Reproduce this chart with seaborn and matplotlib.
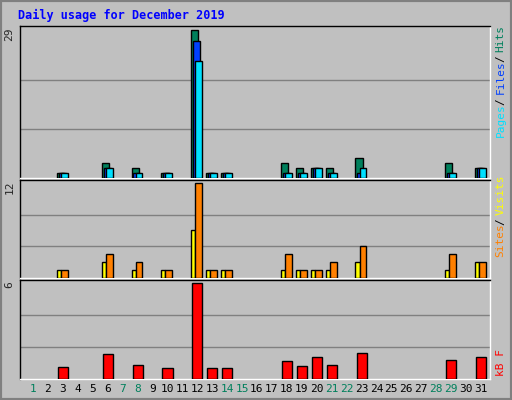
import numpy as np
import matplotlib
matplotlib.use("Agg")
import matplotlib.pyplot as plt
import seaborn as sns

days = list(range(1, 32))
hits = {3: 1, 6: 3, 8: 2, 10: 1, 12: 29, 13: 1, 14: 1, 18: 3, 19: 2, 20: 2, 21: 2, 23: 4, 29: 3, 31: 2}
files = {3: 1, 6: 2, 8: 1, 10: 1, 12: 27, 13: 1, 14: 1, 18: 1, 19: 1, 20: 2, 21: 1, 23: 1, 29: 1, 31: 2}
pages = {3: 1, 6: 2, 8: 1, 10: 1, 12: 23, 13: 1, 14: 1, 18: 1, 19: 1, 20: 2, 21: 1, 23: 2, 29: 1, 31: 2}
visits = {3: 1, 6: 2, 8: 1, 10: 1, 12: 6, 13: 1, 14: 1, 18: 1, 19: 1, 20: 1, 21: 1, 23: 2, 29: 1, 31: 2}
sites = {3: 1, 6: 3, 8: 2, 10: 1, 12: 12, 13: 1, 14: 1, 18: 3, 19: 1, 20: 1, 21: 2, 23: 4, 29: 3, 31: 2}
kbytes = {3: 0.77, 6: 1.53, 8: 0.88, 10: 0.68, 12: 6.0, 13: 0.68, 14: 0.68, 18: 1.14, 19: 0.81,
          20: 1.4, 21: 0.88, 23: 1.6, 29: 1.2, 31: 1.4}
weekend = [1, 7, 8, 14, 15, 21, 22, 28, 29]

sns.set_style("white")
plt.rcParams['font.family'] = ['DejaVu Sans Mono']

W, H = 512, 400
fig = plt.figure(figsize=(W / 100, H / 100), dpi=100, facecolor="#C0C0C0")
# outer border
fig.add_artist(plt.Rectangle((0, 0), 1, 1, transform=fig.transFigure, fill=False, lw=3, ec="#808080"))
fig.text(18 / W, 1 - 15 / H, "Daily usage for December 2019", color="#0000FF", fontsize=8.5,
         fontweight="bold", va="center")

def panel(top, bottom):
    ax = fig.add_axes([20 / W, 1 - bottom / H, 470 / W, (bottom - top) / H])
    ax.set_facecolor("#C0C0C0")
    ax.set_xlim(0.13, 31.61)
    ax.set_xticks([])
    for s in ax.spines.values():
        s.set_color("black")
        s.set_linewidth(1)
    ax.spines["right"].set_color("white")
    ax.spines["bottom"].set_color("white")
    return ax

def bars(ax, data, left, right, color):
    d = np.array(sorted(data))
    v = np.array([data[k] for k in d])
    ax.bar(d + left, v, width=right - left, align="edge", color=color, edgecolor="black", linewidth=1, zorder=3)

def setup(ax, ymax, label):
    ax.set_ylim(0, ymax * 1.03)
    ax.set_yticks([])
    for g in (ymax / 3, 2 * ymax / 3):
        ax.axhline(g, color="#808080", lw=1, zorder=1)
    ax.text(-0.012, 0.99, label, transform=ax.transAxes, rotation=90, ha="right", va="top", fontsize=8)

def side_label(ax, parts):
    # parts: (text, color, bottom position in axes fraction), read bottom-to-top
    for txt, col, y in parts:
        ax.text(1.012, y, txt, transform=ax.transAxes, rotation=90, ha="left", va="bottom",
                color=col, fontsize=8)

ax1 = panel(26, 178)
setup(ax1, 29, "29")
bars(ax1, hits, -0.40, 0.08, "#00805C")
bars(ax1, files, -0.27, 0.20, "#0040FF")
bars(ax1, pages, -0.13, 0.33, "#00E0FF")
side_label(ax1, [("Pages", "#00E0FF", 0.27), ("/", "black", 0.48), ("Files", "#0040FF", 0.55),
                 ("/", "black", 0.76), ("Hits", "#00805C", 0.83)])

ax2 = panel(180, 278)
setup(ax2, 12, "12")
bars(ax2, visits, -0.40, -0.13, "#FFFF00")
bars(ax2, sites, -0.13, 0.33, "#FF8000")
side_label(ax2, [("Sites", "#FF8000", 0.21), ("/", "black", 0.54), ("Visits", "#FFFF00", 0.64)])

ax3 = panel(280, 379)
setup(ax3, 6, "6")
bars(ax3, kbytes, -0.33, 0.35, "#FF0000")
side_label(ax3, [("kB F", "#FF0000", 0.03)])

for d in days:
    ax3.text(d, -0.1, str(d), transform=ax3.get_xaxis_transform(), ha="center", va="center", fontsize=8,
             color="#00805C" if d in weekend else "black")

fig.savefig("out.png", dpi=100, facecolor=fig.get_facecolor())
